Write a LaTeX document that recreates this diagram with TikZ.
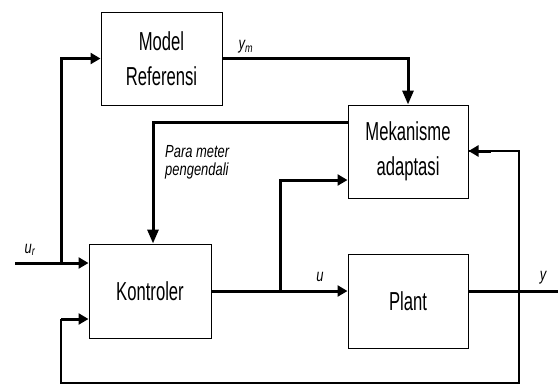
\documentclass[tikz,border=0pt]{standalone}
\usepackage{fontspec}
\setmainfont{Liberation Sans}
\newfontfamily\narrowf[FakeStretch=0.64]{Liberation Sans}
\newfontfamily\narrowit[FakeStretch=0.74]{Liberation Sans Italic}
\usetikzlibrary{arrows.meta}
\begin{document}
\begin{tikzpicture}[x=1pt,y=-1pt,
  blockbox/.style={draw,line width=1pt,minimum width=#1,inner sep=0pt,align=center,
    font=\narrowf\fontsize{26}{35}\selectfont},
  blockbox/.default=120pt,
  wire/.style={line width=3pt},
  thinwire/.style={line width=2pt},
  harr/.style={-{Triangle[length=10pt,width=11pt]}},
  varr/.style={-{Triangle[length=14pt,width=11pt]}},
  lab/.style={inner sep=0pt,font=\narrowit\fontsize{17.5}{18}\selectfont,align=left}]
\useasboundingbox (0,0) rectangle (558,384);
% blocks
\node[blockbox=121pt,minimum height=93pt] (model) at (161.5,58.5) {Model\\Referensi};
\node[blockbox=120pt,minimum height=93pt] (mek) at (408,151.5) {Mekanisme\\adaptasi};
\node[blockbox=122pt,minimum height=94pt] (kon) at (150,291) {Kontroler};
\node[blockbox=120pt,minimum height=94pt] (plant) at (408,301) {Plant};
% coordinates
\coordinate (in) at (15,263);
\coordinate (b1) at (61,263);
\coordinate (b2) at (280,291);
\coordinate (b3) at (519,291);
\coordinate (out) at (558,291);
\coordinate (c1) at (61,383);
% connectors
\draw[wire,harr] (in) -- (in -| kon.west);
\draw[wire,harr] (b1) |- (model.west);
\draw[wire,varr] (model.east) -| (mek.north);
\draw[wire,varr] ([yshift=29.5pt]mek.west) -| ([xshift=3pt]kon.north);
\draw[wire,harr] (kon.east) -- (kon.east -| plant.west);
\draw[wire,harr] (b2) |- ([yshift=-28.5pt]mek.west);
\draw[wire] (kon.east -| plant.east) -- (out);
\draw[thinwire] (b3) |- (c1) -- ([yshift=-28pt]c1 |- kon.west);
\draw[wire,harr] ([yshift=-28pt]c1 |- kon.west) -- ([yshift=-28pt]kon.west);
\draw[thinwire] (b3) |- ([yshift=0.5pt]mek.east);
\draw[wire,harr] ([yshift=0.5pt,xshift=22pt]mek.east) -- ([yshift=0.5pt]mek.east);
% labels
\node[lab] (ur) at (30,250) {u\textsubscript{r}};
\node[lab] (ym) at (246,47) {y\textsubscript{m}};
\node[lab] (ulab) at (320,277) {u};
\node[lab] (ylab) at (543,278) {y};
\node[lab,anchor=north west] (par) at (165,145) {Para meter\\pengendali};
\end{tikzpicture}
\end{document}
